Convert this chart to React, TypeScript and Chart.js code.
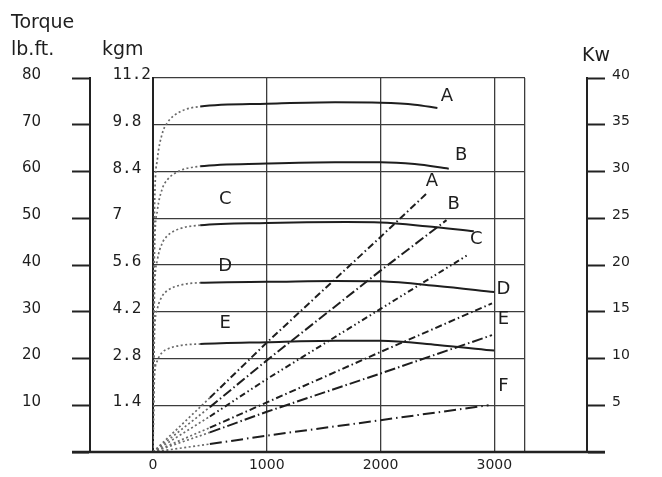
import React, { useEffect, useRef } from "react";
import { Chart, registerables } from "chart.js";

Chart.register(...registerables);

// ---- axis ticks ----
const rpmTicks = [0, 1000, 2000, 3000];
const rpmTickLabels = ["0", "1000", "2000", "3000"];
const rpmMax = 3270;
const lbTickLabels = ["", "10", "20", "30", "40", "50", "60", "70", "80"];
const kgmTickLabels = ["", "1.4", "2.8", "4.2", "5.6", "7", "8.4", "9.8", "11.2"];
const kwTickLabels = ["", "5", "10", "15", "20", "25", "30", "35", "40"];

// ---- torque curves (lb.ft) ----
const torqueA_rpm = [0, 8, 15, 38, 80, 125, 240, 415, 1000, 1600, 2000, 2300, 2500];
const torqueA = [0, 40, 54, 62.5, 68, 70.4, 72.8, 73.9, 74.5, 74.8, 74.7, 74.3, 73.6];
const torqueB_rpm = [0, 8, 15, 38, 80, 125, 240, 415, 1000, 1600, 2000, 2300, 2600];
const torqueB = [0, 33, 44.6, 51.6, 56.2, 58.2, 60.2, 61.1, 61.7, 62.0, 62.0, 61.6, 60.6];
const torqueC_rpm = [0, 8, 15, 38, 80, 125, 240, 415, 1000, 1700, 2000, 2400, 2820];
const torqueC = [0, 26.2, 35.4, 41, 44.6, 46.2, 47.8, 48.5, 49.0, 49.2, 49.1, 48.3, 47.2];
const torqueD_rpm = [0, 8, 15, 38, 80, 125, 240, 415, 1000, 1600, 2000, 2500, 3000];
const torqueD = [0, 19.5, 26.4, 30.6, 33.3, 34.5, 35.7, 36.2, 36.4, 36.6, 36.5, 35.5, 34.2];
const torqueE_rpm = [0, 8, 15, 38, 80, 125, 240, 415, 1000, 1600, 2000, 2500, 3000];
const torqueE = [0, 12.5, 16.9, 19.5, 21.3, 22, 22.8, 23.1, 23.5, 23.8, 23.8, 22.9, 21.7];
const torqueDotEnd = 415;

// ---- power curves (Kw) ----
const powerA_rpm = [0, 500, 1000, 2000, 2410];
const powerA = [0, 5.8, 11.7, 23.0, 27.7];
const powerB_rpm = [0, 500, 1000, 2000, 2580];
const powerB = [0, 4.8, 9.8, 19.4, 24.8];
const powerC_rpm = [0, 500, 1000, 2000, 2770];
const powerC = [0, 3.8, 7.8, 15.3, 21.1];
const powerD_rpm = [0, 500, 1000, 2000, 2980];
const powerD = [0, 2.6, 5.3, 10.7, 15.9];
const powerE_rpm = [0, 500, 1000, 2000, 2980];
const powerE = [0, 2.1, 4.3, 8.4, 12.5];
const powerF_rpm = [0, 500, 1000, 2000, 2950];
const powerF = [0, 0.85, 1.75, 3.4, 5.0];
const powerDotEnd = 500;

// ---- curve letters (rpm, lb.ft positions) ----
const curveLabelText = ["A", "B", "A", "B", "C", "C", "D", "E", "D", "E", "F"];
const curveLabelRpm = [2583, 2709, 2452, 2642, 2841, 635, 635, 635, 3081, 3081, 3081];
const curveLabelLb = [76.1, 63.4, 57.9, 52.9, 45.4, 54.0, 39.7, 27.6, 34.8, 28.3, 14.0];

const textColor = "#1e1e1e";
const axisColor = "#222222";
const gridColor = "#3c3c3c";
const lineColor = "#1e1e1e";
const dotColor = "#6a6a6a";
const dotDash = [2, 2.5];

const toPoints = (xs: number[], ys: number[]) => xs.map((x, i) => ({ x, y: ys[i] }));

function torqueDataset(label: string, xs: number[], ys: number[]) {
  return {
    label,
    data: toPoints(xs, ys),
    yAxisID: "lb",
    borderColor: lineColor,
    borderWidth: 2,
    borderDash: [],
    pointRadius: 0,
    cubicInterpolationMode: "monotone" as const,
    segment: {
      borderDash: (ctx: any) => (ctx.p1.parsed.x <= torqueDotEnd ? dotDash : []),
      borderColor: (ctx: any) => (ctx.p1.parsed.x <= torqueDotEnd ? dotColor : lineColor),
      borderWidth: (ctx: any) => (ctx.p1.parsed.x <= torqueDotEnd ? 1.7 : 2),
    },
  };
}

function powerDataset(label: string, xs: number[], ys: number[], dash: number[]) {
  return {
    label,
    data: toPoints(xs, ys),
    yAxisID: "kw",
    borderColor: lineColor,
    borderWidth: 2,
    borderDash: dash,
    pointRadius: 0,
    tension: 0,
    segment: {
      borderDash: (ctx: any) => (ctx.p1.parsed.x <= powerDotEnd ? dotDash : dash),
      borderColor: (ctx: any) => (ctx.p1.parsed.x <= powerDotEnd ? dotColor : lineColor),
      borderWidth: (ctx: any) => (ctx.p1.parsed.x <= powerDotEnd ? 1.7 : 2),
    },
  };
}

const decorPlugin = {
  id: "decor",
  beforeDraw(chart: any) {
    const ctx = chart.ctx;
    ctx.save();
    ctx.fillStyle = "#ffffff";
    ctx.fillRect(0, 0, chart.width, chart.height);
    ctx.restore();
  },
  afterDraw(chart: any) {
    const ctx = chart.ctx;
    const { x, lb, kw } = chart.scales;
    const area = chart.chartArea;
    ctx.save();
    // extended base line
    ctx.strokeStyle = axisColor;
    ctx.lineWidth = 2.5;
    ctx.beginPath();
    ctx.moveTo(lb.right - 18, area.bottom);
    ctx.lineTo(kw.left + 18, area.bottom);
    ctx.stroke();
    // headers
    ctx.fillStyle = textColor;
    ctx.font = "19px 'DejaVu Sans'";
    ctx.textBaseline = "alphabetic";
    ctx.textAlign = "left";
    ctx.fillText("Torque", 11, 28);
    ctx.fillText("lb.ft.", 11, 55);
    ctx.fillText("kgm", 102, 55);
    ctx.fillText("Kw", 582, 61);
    // curve letters
    ctx.font = "18px 'DejaVu Sans'";
    ctx.textAlign = "center";
    ctx.textBaseline = "middle";
    curveLabelText.forEach((t, i) => {
      ctx.fillText(t, x.getPixelForValue(curveLabelRpm[i]), lb.getPixelForValue(curveLabelLb[i]));
    });
    ctx.restore();
  },
};

export default function App() {
  const ref = useRef<HTMLCanvasElement>(null);
  useEffect(() => {
    const chart = new Chart(ref.current!, {
      type: "line",
      data: {
        datasets: [
          torqueDataset("A", torqueA_rpm, torqueA),
          torqueDataset("B", torqueB_rpm, torqueB),
          torqueDataset("C", torqueC_rpm, torqueC),
          torqueDataset("D", torqueD_rpm, torqueD),
          torqueDataset("E", torqueE_rpm, torqueE),
          powerDataset("A", powerA_rpm, powerA, [7, 3, 1.5, 3]),
          powerDataset("B", powerB_rpm, powerB, [10, 3, 1.5, 3]),
          powerDataset("C", powerC_rpm, powerC, [6, 3, 1.5, 3, 1.5, 3]),
          powerDataset("D", powerD_rpm, powerD, [7, 3, 1.5, 3]),
          powerDataset("E", powerE_rpm, powerE, [11, 3, 1.5, 3]),
          powerDataset("F", powerF_rpm, powerF, [12, 4, 1.5, 4]),
        ] as any,
      },
      options: {
        animation: false,
        responsive: false,
        devicePixelRatio: 1,
        layout: { padding: { top: 78, left: 22, right: 0, bottom: 0 } },
        plugins: { legend: { display: false }, tooltip: { enabled: false }, title: { display: false } },
        scales: {
          x: {
            type: "linear",
            position: "bottom",
            min: 0,
            max: rpmMax,
            afterBuildTicks: (s: any) => {
              s.ticks = [...rpmTicks, rpmMax].map((v) => ({ value: v }));
            },
            afterFit: (s: any) => {
              s.height = 25;
            },
            grid: { color: gridColor, lineWidth: 1.3, drawTicks: false },
            border: { display: false },
            ticks: {
              autoSkip: false,
              maxRotation: 0,
              padding: 5,
              color: textColor,
              font: { family: "'DejaVu Sans'", size: 14 },
              callback: (_v: any, i: number) => rpmTickLabels[i] ?? "",
            },
          },
          lb: {
            type: "linear",
            position: "left",
            weight: 2,
            min: 0,
            max: 80,
            afterFit: (s: any) => {
              s.width = 68;
            },
            grid: { drawOnChartArea: false, drawTicks: true, tickLength: 18, tickWidth: 2, tickColor: axisColor },
            border: { display: true, color: axisColor, width: 2 },
            ticks: {
              stepSize: 10,
              padding: 0,
              crossAlign: "far",
              labelOffset: -3,
              color: textColor,
              font: { family: "'DejaVu Sans'", size: 15 },
              callback: (_v: any, i: number) => lbTickLabels[i] ?? "",
            },
          },
          kgm: {
            type: "linear",
            position: "left",
            weight: 1,
            min: 0,
            max: 11.2,
            afterFit: (s: any) => {
              s.width = 63;
            },
            grid: { drawOnChartArea: true, drawTicks: false, color: gridColor, lineWidth: 1.3 },
            border: { display: true, color: axisColor, width: 2 },
            ticks: {
              stepSize: 1.4,
              padding: 2,
              labelOffset: -3,
              crossAlign: "near",
              color: textColor,
              font: { family: "'DejaVu Sans Mono'", size: 16 },
              callback: (_v: any, i: number) => (kgmTickLabels[i] ?? "").padEnd(4, " "),
            },
          },
          gap: {
            type: "linear",
            position: "right",
            weight: 1,
            min: 0,
            max: 1,
            display: true,
            afterFit: (s: any) => {
              s.width = 62;
            },
            grid: { display: false },
            border: { display: false },
            ticks: { display: false },
          },
          kw: {
            type: "linear",
            position: "right",
            weight: 2,
            min: 0,
            max: 40,
            afterFit: (s: any) => {
              s.width = 75;
            },
            grid: { drawOnChartArea: false, drawTicks: true, tickLength: 18, tickWidth: 2, tickColor: axisColor },
            border: { display: true, color: axisColor, width: 2 },
            ticks: {
              stepSize: 5,
              padding: 7,
              labelOffset: -3,
              color: textColor,
              font: { family: "'DejaVu Sans'", size: 14 },
              callback: (_v: any, i: number) => kwTickLabels[i] ?? "",
            },
          },
        },
      } as any,
      plugins: [decorPlugin],
    });
    return () => chart.destroy();
  }, []);
  return (
    <div style={{ position: "fixed", left: 0, top: 0, width: 662, height: 477, background: "#fff" }}>
      <canvas ref={ref} width={662} height={477} style={{ display: "block", width: 662, height: 477 }} />
    </div>
  );
}
